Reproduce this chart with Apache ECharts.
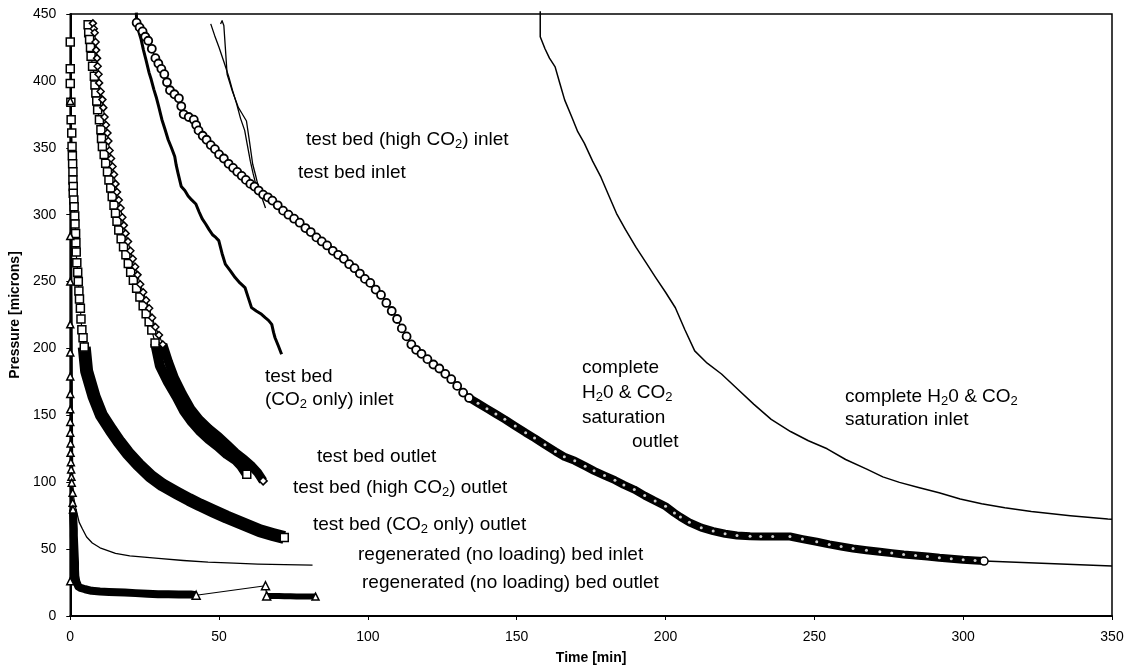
<!DOCTYPE html>
<html><head><meta charset="utf-8">
<script src="https://cdn.jsdelivr.net/npm/echarts@6/dist/echarts.min.js"></script>
<style>html,body{margin:0;padding:0;background:#fff}#c{width:1127px;height:672px}</style>
</head><body><div id="c"></div>
<script>
// ---------- axes ----------
const xRange = [0, 350], xStep = 50;
const yRange = [0, 450], yStep = 50;

// ---------- complete H2O & CO2 saturation inlet (thin line) ----------
const satInlet = [[157.9,452],[157.9,433],[159.5,424],[161,417],[162.9,410.5],[164.5,398],[166.1,385.8],[168.5,373],[170.5,362],[172.7,353.5],[175.5,340],[178.3,328],[181,314],[183.5,301],[186.5,289],[190.1,275.5],[193.5,264],[196.7,253],[200,242],[203.3,230.4],[206.5,214],[209.8,198.2],[214,189],[218.8,180.9],[224,170],[229.7,158.2],[235.5,147],[242,137.9],[248,131],[254.3,125],[260.5,117],[267.6,109.8],[273,104],[278.6,99.9],[285,96],[291.9,92.1],[299,87.5],[306.2,83.9],[314,81],[322.9,78.2],[336,75],[348.6,72.5],[350,72.3]];

// ---------- complete H2O & CO2 saturation outlet (circles) ----------
const satOutletMarked = [[22.3,443.5],[23.3,440],[24.3,437],[25.2,433],[26.2,430],[27.4,424],[28.6,417],[29.6,413],[30.6,409],[31.6,405],[32.5,399],[33.5,393],[35,390],[36.5,387],[37.3,381],[38.1,375],[39.8,373],[41.5,371],[42.3,367],[43.1,363],[44.5,359],[45.8,356],[47.2,352],[48.6,349],[50,345],[51.6,342],[53.2,338],[54.7,335],[56.1,332],[57.6,329],[59,326],[60.5,323],[61.9,321],[63.3,318],[64.8,315],[66.4,313],[67.9,310.5],[69.7,307],[71.5,303],[73.3,300],[75.2,297],[77.1,294],[79,290],[80.8,287],[82.7,283],[84.5,280],[86.3,277],[88.2,273],[90,270],[91.9,267],[93.7,263],[95.5,260],[97.3,256],[99,252],[100.8,249],[102.6,244],[104.4,240],[106.2,234],[108,228],[109.8,222],[111.4,215],[113,209],[114.6,203],[116.2,199],[118,196],[120,192],[122,188],[124,185],[126,181],[128,177],[130,172],[132,167],[134,163]];
const satOutletBand = [[134,163],[137,159],[140,155],[143,151],[146,147],[149.5,142],[153,137],[156,133],[159.5,128],[163,123],[166,119],[169.5,116],[173,112],[176,108.5],[179.5,105],[183,101.5],[186,98],[189.5,94.5],[193,90],[196.5,86],[200,82],[203,77],[205,74],[208,70],[212,66],[216,63.5],[220,61.5],[224,60.2],[228.4,59.6],[232,59.5],[236,59.5],[241.8,59.4],[246,57.5],[250.8,55.5],[255,53.5],[259,52],[263,50.5],[267.5,49.2],[272,48],[276,47],[280,46],[284,45.2],[288,44.5],[292,43.5],[296,42.8],[300,42],[304,41.5],[307,41.1]];
const satOutletTail = [[307,41.1],[350,37.4]];

// ---------- test bed inlets (thin lines) ----------
const hiCO2Inlet = [[47.2,442.6],[48.5,434],[50.0,425],[51.5,415],[53.3,402.8],[54.5,393],[55.9,382.8],[57.2,372],[58.6,363],[59.5,352],[60.5,340],[61.4,331],[62.3,323]];
const bedInlet = [[50.5,442.6],[51.0,445],[51.6,441.4],[52.1,425],[52.7,405],[54.5,392],[56.5,380],[57.6,376],[59.2,370],[60.2,355],[61.3,337.7],[62.2,330],[63.0,322.7],[64.2,314],[65.6,305]];

// ---------- test bed (CO2 only) inlet (thick jagged line) ----------
const co2Inlet = [[22.2,451],[22.3,443.5],[23,437],[23.8,431],[24.6,423],[25.4,416],[26.5,406],[27.2,401],[28.1,393.5],[29,387],[29.7,381],[30.8,371],[31.8,364],[32.9,356],[34,350],[35.1,343.5],[35.6,337],[36.2,331],[37.3,321],[38.5,318],[39.6,314],[40.8,311],[42.2,308],[43.3,302],[44.3,297],[45.5,293],[46.6,289],[47.8,285],[48.9,283],[49.9,280.6],[51,271],[52.1,263],[53.8,258],[55.4,253],[57,249],[58.7,245.5],[59.8,238],[60.9,230.5],[62.5,228],[64,226],[65.5,223],[66.6,221],[67.7,218],[68.3,212],[68.8,208],[69.9,202],[71.0,195.6]];

// ---------- test bed outlet (squares) ----------
const bedOutletMarked = [[6.0,442],[6.2,436],[6.5,431],[6.8,425],[7.0,418.5],[7.5,411],[8.1,403.5],[8.3,397],[8.6,391],[8.9,385],[9.2,378.5],[9.8,371],[10.3,363.5],[10.5,357],[10.8,351],[11.4,345],[11.9,338.5],[12.5,332],[13.0,326],[13.6,320],[14.1,313.5],[14.7,307],[15.2,301],[15.7,295],[16.3,288.5],[17.1,282],[17.9,276],[18.7,270],[19.5,263.5],[20.3,257],[21.2,251],[22.3,245],[23.4,238.5],[24.5,232],[25.5,226],[26.5,220],[27.4,213.8],[28.5,204]];
const bedOutletBand = [[28.5,204],[30.1,187],[32.8,175],[35.7,164],[38.3,153],[40.9,145],[43.7,138],[46.6,132],[49.5,127],[52.6,121],[55.6,116.5],[57.5,112],[59.3,106]];

// ---------- test bed (high CO2) outlet (diamonds) ----------
const hiOutletMarked = [[7.6,443],[7.9,439],[8.2,436],[8.5,429],[8.7,423],[9.0,417],[9.2,411],[9.5,405],[9.7,398.5],[10.2,392],[10.8,386],[11.1,380],[11.5,373],[12.0,367],[12.5,361],[12.8,355],[13.2,348],[13.7,342],[14.2,336],[14.7,330],[15.2,323],[15.7,317],[16.3,311],[16.9,305],[17.5,298],[18.0,292],[18.6,286],[19.4,280],[20.2,273],[21.0,267],[21.8,261],[22.6,255],[23.5,248],[24.5,242],[25.5,236],[26.5,230],[27.5,223],[28.6,216],[29.8,210],[31.1,203]];
const hiOutletBand = [[31.1,203],[33,190],[35,178],[37.7,166],[40.5,155],[43.3,147],[46.6,140],[49.9,134],[52.8,128],[55.6,122],[58.5,117],[61,112],[63,107],[64.8,101]];

// ---------- test bed (CO2 only) outlet (squares) ----------
const co2OutletMarked = [[0,429],[0,409],[0,398],[0.2,384],[0.3,371],[0.5,361],[0.6,351],[0.7,344],[0.8,338],[0.9,332],[0.9,326],[1.0,321],[1.0,316],[1.2,311],[1.3,306],[1.5,299],[1.6,293],[1.8,286],[1.9,279],[2.0,272],[2.2,264],[2.5,257],[2.7,250],[2.9,243],[3.1,237],[3.4,230],[3.6,222],[3.9,214],[4.3,208],[4.7,201]];
const co2OutletBand = [[4.7,201],[5.5,183],[8,164],[10.5,150],[13.7,139],[16.5,130],[19.3,122],[23,113],[27,104.5],[31,98],[35.9,91.9],[40,87],[43.6,83],[48,78.5],[52.5,74],[58,69],[63.7,63.8],[68,61],[71.9,58.6]];

// ---------- regenerated (no loading) bed inlet (thin line) ----------
const regenInlet = [[0.4,290],[0.6,220],[0.7,150],[0.8,100],[1.2,88],[1.9,80],[3,70],[4.1,65],[5.5,59],[7.4,54.6],[10,51],[15.2,46.8],[20,45],[29.6,43.1],[38,41.5],[46.3,40.3],[55,39.5],[63,38.8],[72,38.4],[81.4,38]];

// ---------- regenerated (no loading) bed outlet (triangles) ----------
const regenOutletTop = [[0,26],[0,385],[0,284],[0,250],[0,218],[0,197],[0,179],[0,166],[0,154.5],[0,145],[0,137],[0.1,129],[0.1,122],[0.2,115],[0.3,109.6],[0.4,104],[0.5,99.6],[0.8,92.2],[0.8,84.7],[0.9,79.7]];
const regenOutletBand1 = [[0.9,79.7],[1.0,74],[1.1,69],[1.2,64.8],[1.2,60],[1.3,55],[1.4,49.8],[1.5,44.5],[1.6,39.8],[1.6,35],[1.7,29.9],[2.0,26],[2.7,22],[3.5,21],[5,20],[7.2,18.8],[10,18.3],[13,18],[18.3,17.6],[22,17.1],[26,16.6],[29.5,16.3],[33,16.2],[36.5,16.1],[40.5,16.1],[42.3,15.5]];
const regenOutletJump = [[42.3,15.5],[65.6,22.6],[66,15]];
const regenOutletBand2 = [[66,15],[68,15],[70,15],[72,14.8],[74,14.8],[76,14.6],[78,14.6],[80,14.5],[82.4,14.5]];

// ---------- annotation texts ----------
const notes = [
  ['test bed (high CO{s|2}) inlet', 306, 140],
  ['test bed inlet', 298, 173],
  ['test bed', 265, 377],
  ['(CO{s|2} only) inlet', 265, 400],
  ['complete', 582, 368],
  ['H{s|2}0 & CO{s|2}', 582, 393],
  ['saturation', 582, 418],
  ['outlet', 632, 442],
  ['complete H{s|2}0 & CO{s|2}', 845, 397],
  ['saturation inlet', 845, 420],
  ['test bed outlet', 317, 457],
  ['test bed (high CO{s|2}) outlet', 293, 488],
  ['test bed (CO{s|2} only) outlet', 313, 525],
  ['regenerated (no loading) bed inlet', 358, 555],
  ['regenerated (no loading) bed outlet', 362, 583]
];

const FONT = '"Liberation Sans", Arial, Helvetica, sans-serif';
const K = '#000';

function plain(data, width, z) {
  return {type:'line', data, symbol:'none', clip:false, animation:false, silent:true,
    lineStyle:{color:K, width, cap:'butt', join:'round'}, z: z || 2};
}
function marked(data, symbol, size, lw, z, bw) {
  return {type:'line', data, symbol, symbolSize:size, showSymbol:true, showAllSymbol:true,
    clip:false, animation:false, silent:true,
    lineStyle:{color:K, width:lw},
    itemStyle:{color:'#fff', borderColor:K, borderWidth: bw || 1.5}, z: z || 3};
}
function endMark(data, symbol, size) {
  return marked([data[data.length - 1]], symbol, size, 0, 5);
}

const series = [
  plain(satInlet, 1.5),
  plain(satOutletTail, 1.5),
  plain(satOutletBand, 8),
  {type:'scatter', data:satOutletBand, symbol:'circle', symbolSize:3, clip:false, silent:true, animation:false,
    itemStyle:{color:'#fff'}, z:4},
  marked(satOutletMarked, 'circle', 8, 1.5, 3, 1.8),
  endMark(satOutletBand, 'circle', 8),
  plain(hiCO2Inlet, 1.3),
  plain(bedInlet, 1.3),
  plain(co2Inlet, 3),
  plain(co2OutletBand, 13),
  marked(co2OutletMarked, 'rect', 8, 1.2),
  endMark(co2OutletBand, 'rect', 8),
  plain(bedOutletBand, 10),
  marked(bedOutletMarked, 'rect', 8, 1.2),
  endMark(bedOutletBand, 'rect', 8),
  plain(hiOutletBand, 9),
  marked(hiOutletMarked, 'diamond', 7, 1.2),
  endMark(hiOutletBand, 'diamond', 8),
  plain(regenInlet, 1.3),
  plain(regenOutletBand1, 8),
  plain(regenOutletBand2, 6),
  marked(regenOutletTop, 'triangle', 7, 1.2),
  marked(regenOutletJump, 'triangle', 8, 1.2, 5),
  endMark(regenOutletBand2, 'triangle', 7)
];

const graphics = notes.map(([t, x, y]) => ({
  type:'text', x, y, silent:true, z:100,
  style:{text:t, fontFamily:FONT, fontSize:19, fill:K, align:'left', verticalAlign:'middle',
    rich:{s:{fontFamily:FONT, fontSize:13, fill:K, padding:[9,0,0,0]}}}
}));

const chart = echarts.init(document.getElementById('c'), null, {renderer:'canvas'});
chart.setOption({
  backgroundColor:'#fff',
  animation:false,
  grid:{left:64, right:15, top:14, bottom:56, show:true, borderColor:K, borderWidth:1.5, backgroundColor:'transparent'},
  xAxis:{type:'value', min:xRange[0], max:xRange[1], interval:xStep,
    name:'Time [min]', nameLocation:'middle', nameGap:35,
    nameTextStyle:{fontFamily:FONT, fontSize:14, fontWeight:'bold', color:K},
    axisLine:{show:true, lineStyle:{color:K, width:2}},
    axisTick:{show:true, length:4, lineStyle:{color:K}},
    axisLabel:{fontFamily:FONT, fontSize:14, color:K, margin:14},
    splitLine:{show:false}},
  yAxis:{type:'value', min:yRange[0], max:yRange[1], interval:yStep,
    name:'Pressure [microns]', nameLocation:'middle', nameGap:38,
    nameTextStyle:{fontFamily:FONT, fontSize:14, fontWeight:'bold', color:K},
    axisLine:{show:true, lineStyle:{color:K, width:2}},
    axisTick:{show:true, length:4, lineStyle:{color:K}},
    axisLabel:{fontFamily:FONT, fontSize:14, color:K, margin:14},
    splitLine:{show:false}},
  series,
  graphic: graphics
});
</script></body></html>
